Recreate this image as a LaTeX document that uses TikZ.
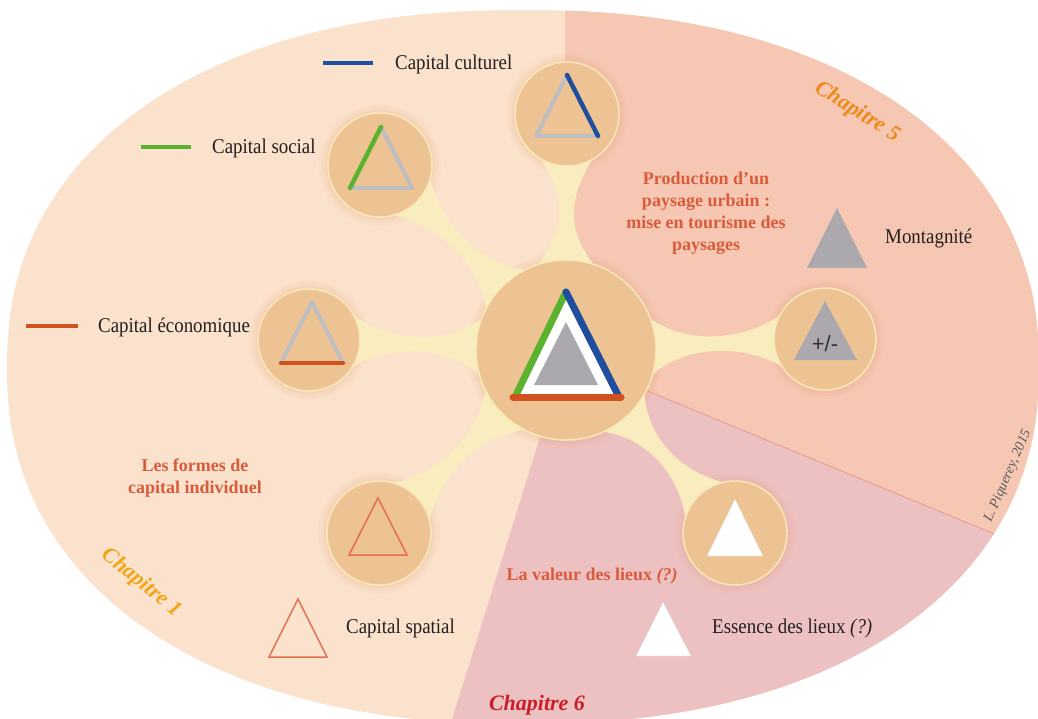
\documentclass[tikz,border=0pt]{standalone}
\usepackage{fontspec}
\setmainfont{Liberation Serif}[FakeStretch=0.9]
\newfontfamily\titlefont{Liberation Serif}
\newfontfamily\sansf{Liberation Sans}
\usetikzlibrary{calc}
\definecolor{chA}{HTML}{FBE2CC}
\definecolor{chB}{HTML}{F6C8B4}
\definecolor{chC}{HTML}{EDC1C2}
\definecolor{circf}{HTML}{EEC394}
\definecolor{circb}{HTML}{FCEBB9}
\definecolor{neckc}{HTML}{F9EDBF}
\definecolor{glowc}{HTML}{E39A6A}
\definecolor{grayl}{HTML}{BDBDC2}
\definecolor{grayf}{HTML}{ABA9AE}
\definecolor{greenl}{HTML}{5BB22E}
\definecolor{bluel}{HTML}{1F4E9E}
\definecolor{redl}{HTML}{D0501E}
\definecolor{spat}{HTML}{E46F50}
\definecolor{txt}{HTML}{231F20}
\definecolor{ttlc}{HTML}{D95B3B}
\definecolor{chone}{HTML}{F2A516}
\definecolor{chfive}{HTML}{EE8A1A}
\definecolor{chsix}{HTML}{C81E2A}
\definecolor{sepl}{HTML}{E59A8A}
\pgfdeclarelayer{bg}
\pgfsetlayers{bg,main}
% neck from the central circle (566,350) to a satellite at (#1,#2), radius #3, seen at angle #4
\newcommand\neck[4]{%
  \fill[neckc] ({566+88*cos(#4+20)},{350-88*sin(#4+20)})
   .. controls ({566+118*cos(#4)},{350-118*sin(#4)}) and ({#1-(#3+30)*cos(#4)},{#2+(#3+30)*sin(#4)}) ..
   ({#1+(#3-2)*cos(#4+145)},{#2-(#3-2)*sin(#4+145)}) -- (#1,#2) --
   ({#1+(#3-2)*cos(#4+215)},{#2-(#3-2)*sin(#4+215)})
   .. controls ({#1-(#3+30)*cos(#4)},{#2+(#3+30)*sin(#4)}) and ({566+118*cos(#4)},{350-118*sin(#4)}) ..
   ({566+88*cos(#4-20)},{350-88*sin(#4-20)}) -- (566,350) -- cycle;}
\begin{document}
\begin{tikzpicture}[x=1pt,y=-1pt,
  sat/.style={circle, inner sep=0pt, minimum size=104pt, fill=circf, draw=circb, line width=1.4pt},
  lbl/.style={font=\fontsize{21}{24}\selectfont, text=txt, inner sep=0pt, anchor=west},
  ttl/.style={font=\titlefont\bfseries\fontsize{18}{22}\selectfont, text=ttlc, align=center, inner sep=0pt},
  chap/.style={font=\titlefont\bfseries\itshape\fontsize{22}{24}\selectfont, inner sep=0pt},
  gline/.style={line width=4pt, draw=grayl, line cap=round, line join=round},
  cline/.style={line width=4.5pt, line cap=round},
  bigline/.style={line width=7pt, line cap=round},
  dotedge/.style={fill=white, draw=black!18, densely dotted, line width=0.6pt}
]
\useasboundingbox (0,0) rectangle (1038,719);
\def\oval{plot[domain=1:361,samples=181] ({523+516*sign(cos(\x))*abs(cos(\x))^0.9},{367+357*sign(sin(\x))*abs(sin(\x))^0.9}) -- cycle}
\begin{pgfonlayer}{bg}
\fill[white] (0,0) rectangle (1038,719);
\begin{scope}
\clip \oval;
\fill[chA] (0,0) rectangle (1038,719);
\fill[chB] (565,357) -- (565,-10) -- (1100,-10) -- (1100,577.5) -- cycle;
\fill[chC] (565,357) -- (1100,577.5) -- (1100,800) -- (427,800) -- cycle;
\draw[sepl, line width=0.8pt] (565,357) -- (1100,577.5);
\end{scope}
\end{pgfonlayer}

% circles
\node[sat, minimum size=180pt] (C) at (566,350) {};
\node[sat] (cult) at (567,114) {};
\node[sat] (soc) at (380,165) {};
\node[sat, minimum size=102pt] (eco) at (309,340) {};
\node[sat] (spa) at (379,533) {};
\node[sat, minimum size=102pt] (pm) at (825,339) {};
\node[sat] (ess) at (735,533) {};

\begin{pgfonlayer}{bg}
\foreach \n/\r in {C/90,cult/52,soc/52,eco/51,spa/52,pm/51,ess/52}{
  \foreach \d/\o in {9/0.05,6/0.07,3/0.09}{
    \fill[glowc, opacity=\o] (\n) circle (\r+\d);
  }
}
\neck{567}{114}{52}{90}
\neck{380}{165}{52}{135.1}
\neck{309}{340}{51}{177.8}
\neck{379}{533}{52}{224.4}
\neck{825}{339}{51}{2.4}
\neck{735}{533}{52}{312.7}
\end{pgfonlayer}

% central triangle
\fill[white] (566,292) -- (515,397) -- (619,397) -- cycle;
\fill[grayf] (566,322) -- (534,385) -- (598,385) -- cycle;
\draw[bigline, greenl] (515,397) -- (566,292);
\draw[bigline, bluel] (566,292) -- (619,397);
\draw[bigline, redl] (513,397) -- (621,397);

% culturel
\draw[gline] (598,136) -- (536,136) -- (567,75);
\draw[cline, bluel] (567,75) -- (598,136);
% social
\draw[gline] (381,127) -- (412,188) -- (350,188);
\draw[cline, greenl] (350,188) -- (381,127);
% economique
\draw[gline] (281,363) -- (312,302) -- (343,363);
\draw[cline, redl] (281,363) -- (343,363);
% spatial
\draw[spat, line width=1.5pt] (378,498) -- (349,555) -- (407,555) -- cycle;
% plus minus
\fill[grayf] (825,301) -- (794,360) -- (857,360) -- cycle;
\node[font=\sansf\fontsize{22}{24}\selectfont, text=black!80, inner sep=0pt] (pmtxt) at (825,344) {+/-};
% essence
\draw[dotedge] (735,499) -- (707,556) -- (763,556) -- cycle;

% legend
\draw[cline, bluel, line cap=butt, line width=3.5pt] (323,63) -- (373,63);
\node[lbl] (tcult) at (395,64) {Capital culturel};
\draw[cline, greenl, line cap=butt, line width=3.5pt] (141,147) -- (191,147);
\node[lbl] (tsoc) at (212,148) {Capital social};
\draw[cline, redl, line cap=butt, line width=3.5pt] (26,326) -- (78,326);
\node[lbl] (teco) at (98,327) {Capital économique};
\draw[spat, line width=1.5pt] (298,599) -- (269,657) -- (327,657) -- cycle;
\node[lbl] (tspa) at (346,628) {Capital spatial};
\fill[grayf] (837,208) -- (807,268) -- (867,268) -- cycle;
\node[lbl] (tmont) at (885,238) {Montagnité};
\draw[dotedge] (663,602) -- (636,656) -- (691,656) -- cycle;
\node[lbl] (tess) at (712,628) {Essence des lieux \textit{(?)}};

% titles
\node[ttl] (prod) at (706,213) {Production d’un\\paysage urbain :\\mise en tourisme des\\paysages};
\node[ttl] (formes) at (195,478) {Les formes de\\capital individuel};
\node[ttl] (valeur) at (592,576) {La valeur des lieux \textit{(?)}};

% chapters
\node[chap, text=chfive, rotate=-32] (ch5) at (857,112) {Chapitre 5};
\node[chap, text=chone, rotate=-39] (ch1) at (141,583) {Chapitre 1};
\node[chap, text=chsix] (ch6) at (537,705) {Chapitre 6};
\node[font=\titlefont\itshape\fontsize{14}{16}\selectfont, text=black!65, rotate=66.5, inner sep=0pt] (auth) at (1008,476) {L. Piquerey, 2015};
\end{tikzpicture}
\end{document}
